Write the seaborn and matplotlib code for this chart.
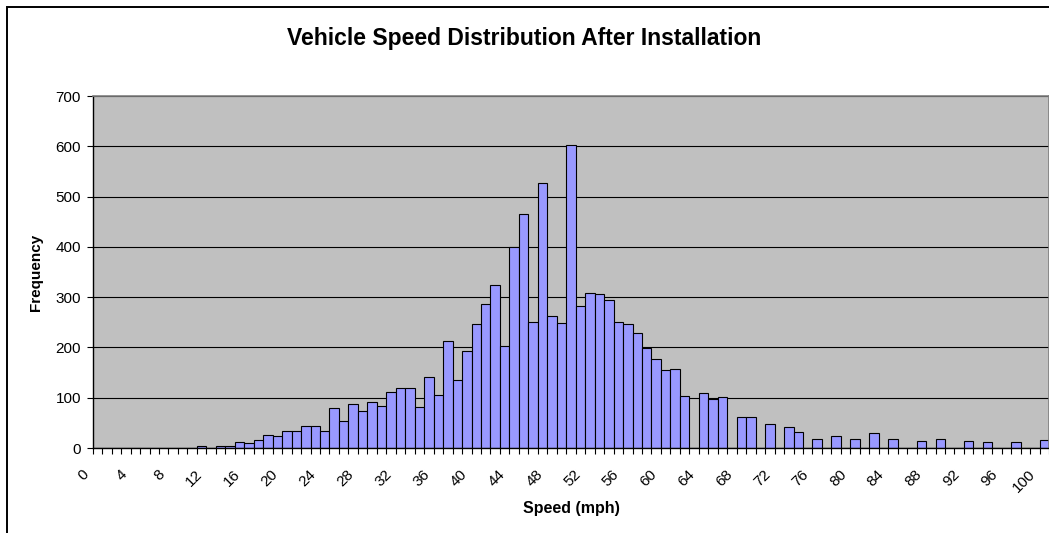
import numpy as np
import pandas as pd
import matplotlib
matplotlib.use("Agg")
import matplotlib.pyplot as plt
import seaborn as sns
from matplotlib.transforms import ScaledTranslation
from matplotlib.patches import Rectangle

# ---- data ----
speeds = list(range(0, 101))
freq = [
    0, 0, 0, 0, 0, 0, 0, 0, 0, 0,          # 0-9
    0, 3, 0, 3, 3, 12, 9, 15, 26, 23,      # 10-19
    33, 33, 43, 43, 33, 79, 53, 87, 74, 91,  # 20-29
    84, 112, 120, 120, 82, 141, 105, 212, 135, 193,  # 30-39
    246, 286, 324, 202, 400, 466, 251, 526, 263, 248,  # 40-49
    603, 283, 309, 307, 295, 251, 246, 229, 199, 176,  # 50-59
    155, 158, 104, 0, 109, 97, 102, 0, 61, 61,  # 60-69
    0, 48, 0, 41, 31, 0, 17, 0, 23, 0,     # 70-79
    18, 0, 29, 0, 18, 0, 0, 13, 0, 18,     # 80-89
    0, 0, 13, 0, 11, 0, 0, 11, 0, 0,       # 90-99
    16,                                    # 100
]
tick_values = list(range(0, 101, 4))
tick_labels = [str(v) for v in tick_values]
y_ticks = [0, 100, 200, 300, 400, 500, 600, 700]

title = "Vehicle Speed Distribution After Installation"
xlabel = "Speed (mph)"
ylabel = "Frequency"

# ---- style ----
sns.set_theme(style="white")
plt.rcParams["font.family"] = ["Liberation Sans", "DejaVu Sans"]

W, H = 1049, 533
fig = plt.figure(figsize=(W / 100, H / 100), dpi=100)
fig.patch.set_facecolor("white")

# outer chart border (left + top visible, rest clipped)
fig.patches.append(Rectangle((6.7 / W, -0.05), 1.2, 1.05 - 6.5 / H,
                             transform=fig.transFigure, fill=False,
                             edgecolor="black", linewidth=1.4))

ax = fig.add_axes([92.7 / W, 85 / H, 956.5 / W, 352 / H])
ax.set_facecolor("#C0C0C0")

df = pd.DataFrame({"speed": speeds, "freq": freq})
sns.barplot(data=df, x="speed", y="freq", order=speeds, width=1.0,
            color="#9999FF", saturation=1, edgecolor="black",
            linewidth=0.8, ax=ax)

ax.set_xlim(-0.5, len(speeds) - 0.5)
ax.set_ylim(0, 700)
ax.set_yticks(y_ticks)
ax.set_yticklabels([str(v) for v in y_ticks])
ax.yaxis.grid(True, color="black", linewidth=0.8)
ax.xaxis.grid(False)
ax.set_axisbelow(True)

ax.set_xticks([speeds.index(v) for v in tick_values])
ax.set_xticklabels(tick_labels, rotation=45, ha="right", va="top")
ax.set_xticks(np.arange(-0.5, len(speeds), 1.0), minor=True)
ax.tick_params(axis="x", which="major", length=0, pad=14, labelsize=11,
               bottom=True, labelcolor="black")
ax.tick_params(axis="x", which="minor", length=4, width=0.8, direction="out",
               color="black", bottom=True)
ax.tick_params(axis="y", which="major", length=4.5, width=0.8, direction="out",
               color="black", left=True, pad=4, labelsize=11, labelcolor="black")

offset = ScaledTranslation(-0.06, 0, fig.dpi_scale_trans)
for lbl in ax.get_xticklabels():
    lbl.set_transform(lbl.get_transform() + offset)

for side in ["left", "bottom"]:
    ax.spines[side].set_color("black")
    ax.spines[side].set_linewidth(1.0)
for side in ["top", "right"]:
    ax.spines[side].set_color("#808080")
    ax.spines[side].set_linewidth(1.2)

ax.set_xlabel(xlabel, fontsize=11.5, fontweight="bold", color="black")
ax.xaxis.set_label_coords(0.5, -(508 - 448) / 352)
ax.xaxis.label.set_va("center")
ax.set_ylabel(ylabel, fontsize=11, fontweight="bold", color="black")
ax.yaxis.set_label_coords((36 - 92.7) / 956.5, 0.5)
ax.yaxis.label.set_va("center")

fig.text(0.5, 1 - 39 / H, title, ha="center", va="center",
         fontsize=16.5, fontweight="bold", color="black")

fig.savefig("out.png", dpi=100)
